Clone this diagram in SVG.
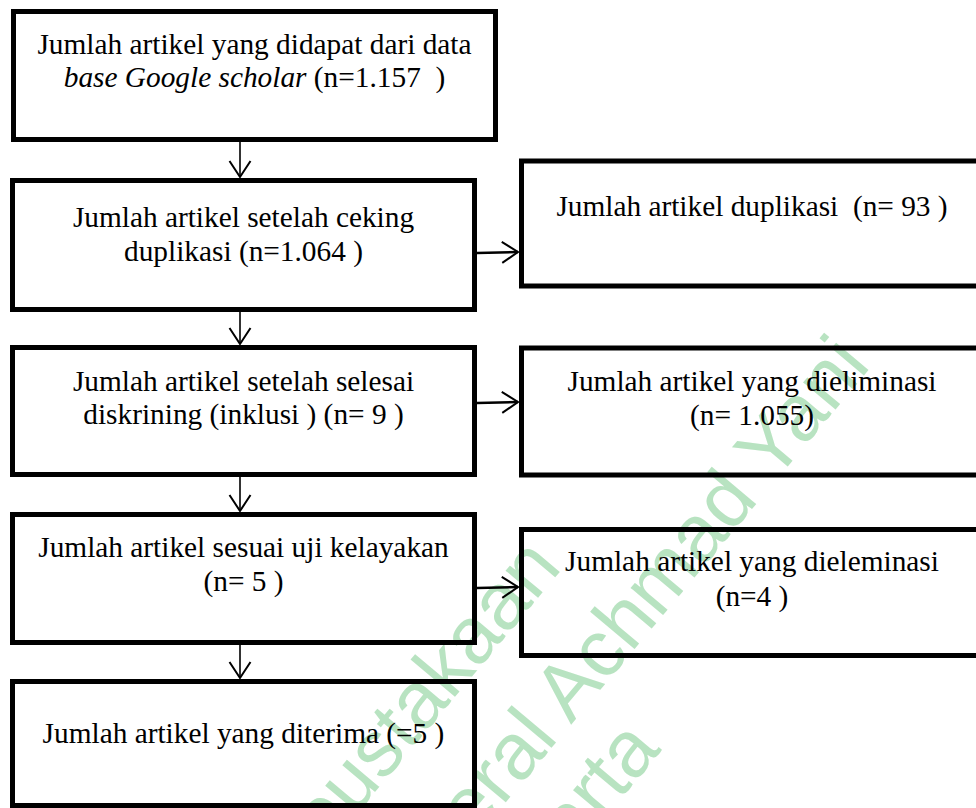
<svg xmlns="http://www.w3.org/2000/svg" width="976" height="808" viewBox="0 0 976 808">
<style>
.box{fill:none;stroke:#000;stroke-width:5}
.t{font-family:"Liberation Serif","Times New Roman",serif;font-size:29.33px;fill:#000;text-anchor:middle}
.wm{font-family:"Liberation Sans",Arial,sans-serif;font-size:80px;fill:#b8e3c1;text-anchor:end}
.cv{fill:none;stroke:#000;stroke-width:1.6}
.ch{fill:none;stroke:#000;stroke-width:2.6}
</style>
<defs>
<marker id="ah" markerUnits="userSpaceOnUse" viewBox="-20 -14 24 28" refX="0" refY="0" markerWidth="24" markerHeight="28" orient="auto">
<path d="M-16,-10.5 L0,0 L-16,10.5" fill="none" stroke="#000" stroke-width="2"/>
</marker>
</defs>
<rect width="976" height="808" fill="#fff"/>
<g id="watermark">
<text class="wm" transform="translate(563,568) rotate(-50)">pustakaan</text>
<text class="wm" transform="translate(872,366) rotate(-50)">eral Achmad Yani</text>
<text class="wm" transform="translate(662,750) rotate(-50)">arta</text>
</g>
<g id="n1">
<rect class="box" x="13.5" y="11.5" width="482" height="128"/>
<text class="t" x="254.5" y="54">Jumlah artikel yang didapat dari data</text>
<text class="t" x="254.5" y="87" xml:space="preserve"><tspan font-style="italic">base Google scholar</tspan> (n=1.157  )</text>
</g>
<g id="n2">
<rect class="box" x="12.5" y="180.5" width="462" height="129"/>
<text class="t" x="243.5" y="227">Jumlah artikel setelah ceking</text>
<text class="t" x="243.5" y="261">duplikasi (n=1.064 )</text>
</g>
<g id="n2r">
<rect class="box" x="521.5" y="161" width="462" height="125"/>
<text class="t" x="752" y="216" xml:space="preserve">Jumlah artikel duplikasi  (n= 93 )</text>
</g>
<g id="n3">
<rect class="box" x="12.5" y="347.5" width="462" height="127"/>
<text class="t" x="243.5" y="391">Jumlah artikel setelah selesai</text>
<text class="t" x="243.5" y="424">diskrining (inklusi ) (n= 9 )</text>
</g>
<g id="n3r">
<rect class="box" x="521.5" y="348" width="462" height="127"/>
<text class="t" x="752" y="391">Jumlah artikel yang dieliminasi</text>
<text class="t" x="752" y="425">(n= 1.055)</text>
</g>
<g id="n4">
<rect class="box" x="12.5" y="514.5" width="462" height="128"/>
<text class="t" x="243.5" y="557">Jumlah artikel sesuai uji kelayakan</text>
<text class="t" x="243.5" y="591">(n= 5 )</text>
</g>
<g id="n4r">
<rect class="box" x="521.5" y="529.5" width="462" height="126"/>
<text class="t" x="752" y="571">Jumlah artikel yang dieleminasi</text>
<text class="t" x="752" y="606">(n=4 )</text>
</g>
<g id="n5">
<rect class="box" x="12.5" y="681.5" width="462" height="124"/>
<text class="t" x="243.5" y="743">Jumlah artikel yang diterima (=5 )</text>
</g>
<g id="connectors">
<line class="cv" x1="240" y1="142" x2="240" y2="177" marker-end="url(#ah)"/>
<line class="cv" x1="240" y1="312" x2="240" y2="344" marker-end="url(#ah)"/>
<line class="cv" x1="240" y1="477" x2="240" y2="511" marker-end="url(#ah)"/>
<line class="cv" x1="240" y1="645" x2="240" y2="678" marker-end="url(#ah)"/>
<line class="ch" x1="477" y1="253" x2="518" y2="252" marker-end="url(#ah)"/>
<line class="ch" x1="477" y1="403" x2="518" y2="402" marker-end="url(#ah)"/>
<line class="ch" x1="477" y1="588" x2="518" y2="587" marker-end="url(#ah)"/>
</g>
</svg>
